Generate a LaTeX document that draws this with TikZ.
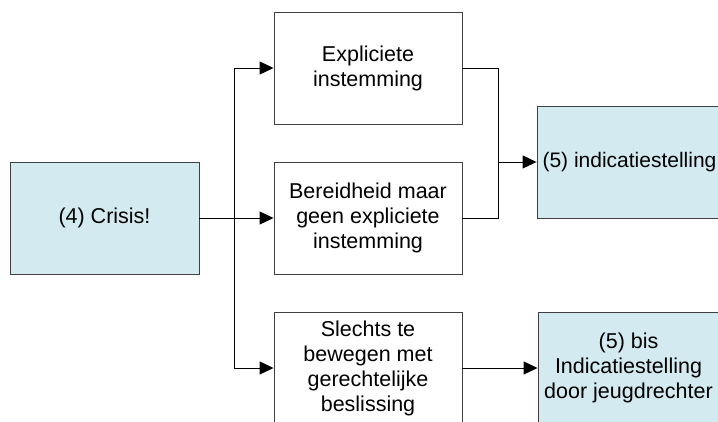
\documentclass[tikz,border=0pt]{standalone}
\usepackage{fontspec}
\setmainfont{Liberation Sans}
\usetikzlibrary{arrows.meta}
\definecolor{boxfill}{HTML}{D3EAF0}
\definecolor{boxline}{HTML}{404040}
\tikzset{
  stepbox/.style={draw=boxline, line width=0.9pt, rectangle, minimum width=188pt, minimum height=112pt,
    align=center, font=\fontsize{21.5}{25}\selectfont, inner sep=0pt},
  bluebox/.style={stepbox, fill=boxfill},
  conn/.style={draw=black, line width=0.9pt},
  arr/.style={conn, -{Triangle[length=14pt, width=13pt]}}
}
\begin{document}
\begin{tikzpicture}[x=1pt, y=-1pt]
\useasboundingbox (0,0) rectangle (718,421);
\clip (0,0) rectangle (718,421);
\node[bluebox, minimum width=189pt] (crisis) at (104.5,218) {(4) Crisis!};
\node[stepbox] (expl) at (368,68) {Expliciete\\instemming};
\node[stepbox] (bereid) at (368,218) {Bereidheid maar\\geen expliciete\\instemming};
\node[stepbox] (slechts) at (368,368) {Slechts te\\bewegen met\\gerechtelijke\\beslissing};
\node[bluebox, minimum width=185pt, font=\fontsize{21}{25}\selectfont] (ind) at (629.5,162) {(5) indicatiestelling};
\node[bluebox, minimum width=181pt] (bis) at (628.5,368) {(5) bis\\Indicatiestelling\\door jeugdrechter};
\coordinate (trunk) at (234,218);
\coordinate (merge) at (498,162);
\draw[arr] (crisis.east) -- (bereid.west);
\draw[arr] (trunk) |- (expl.west);
\draw[arr] (trunk) |- (slechts.west);
\draw[conn] (expl.east) -| (merge);
\draw[conn] (bereid.east) -| (merge);
\draw[arr] (merge) -- (ind.west);
\draw[arr] (slechts.east) -- (bis.west);
\end{tikzpicture}
\end{document}
